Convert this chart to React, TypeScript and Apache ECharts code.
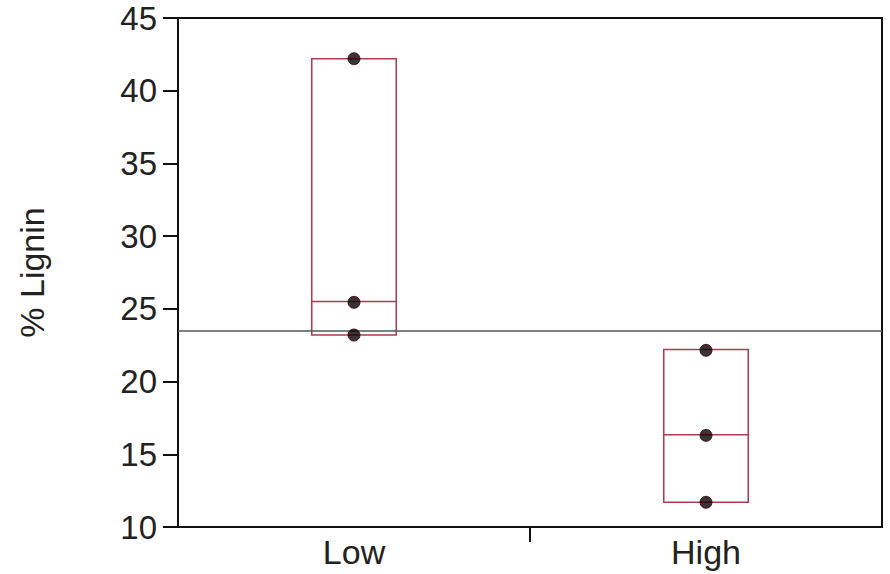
import React, { useEffect, useRef } from "react";
import * as echarts from "echarts";

const categories = ["Low", "High"];
// observed points per group
const lowValues = [42.2, 25.45, 23.2];
const highValues = [22.15, 16.3, 11.7];
// box: [min, Q1, median, Q3, max]
const lowBox = [23.2, 23.2, 25.5, 42.2, 42.2];
const highBox = [11.7, 11.7, 16.35, 22.2, 22.2];
const yTicks = { min: 10, max: 45, interval: 5 };
const yName = "% Lignin";

const FONT = "'Liberation Sans', Arial, sans-serif";

export default function App() {
  const ref = useRef<HTMLDivElement>(null);
  useEffect(() => {
    document.body.style.margin = "0";
    if (!ref.current) return;
    const chart = echarts.init(ref.current, null, { renderer: "svg" });
    const all = [...lowValues, ...highValues];
    const grandMean = all.reduce((a, b) => a + b, 0) / all.length;
    const points: [string, number][] = [
      ...lowValues.map((v) => [categories[0], v] as [string, number]),
      ...highValues.map((v) => [categories[1], v] as [string, number]),
    ];
    chart.setOption({
      animation: false,
      backgroundColor: "#ffffff",
      textStyle: { fontFamily: FONT },
      grid: {
        left: 178,
        right: 8,
        top: 18,
        bottom: 47,
        show: true,
        borderColor: "#111",
        borderWidth: 2,
        backgroundColor: "transparent",
      },
      xAxis: [
        {
          type: "category",
          data: categories,
          position: "bottom",
          axisLine: { show: true, lineStyle: { color: "#111", width: 2 } },
          axisTick: { show: false },
          axisLabel: {
            fontSize: 34,
            color: "#222",
            margin: 8,
            fontFamily: FONT,
          },
          splitLine: { show: false },
        },
        {
          type: "value",
          min: 0,
          max: 2,
          interval: 2,
          position: "bottom",
          axisLine: { show: false },
          axisLabel: { show: false },
          axisTick: { show: false },
          splitLine: { show: false },
          minorTick: {
            show: true,
            splitNumber: 2,
            length: 15,
            lineStyle: { color: "#111", width: 2 },
          },
          minorSplitLine: { show: false },
        },
      ],
      yAxis: {
        type: "value",
        min: yTicks.min,
        max: yTicks.max,
        interval: yTicks.interval,
        name: yName,
        nameLocation: "middle",
        nameGap: 129,
        nameRotate: 90,
        nameTextStyle: { fontSize: 34, color: "#222", fontFamily: FONT },
        axisLine: { show: true, lineStyle: { color: "#111", width: 2 } },
        axisTick: {
          show: true,
          inside: false,
          length: 15,
          lineStyle: { color: "#111", width: 2 },
        },
        axisLabel: { fontSize: 33, color: "#222", margin: 21, fontFamily: FONT },
        splitLine: { show: false },
      },
      series: [
        {
          type: "boxplot",
          xAxisIndex: 0,
          data: [lowBox, highBox],
          boxWidth: ["24%", "24%"],
          itemStyle: {
            color: "transparent",
            borderColor: "#b03a50",
            borderWidth: 1.5,
          },
          emphasis: { disabled: true },
          silent: true,
        },
        {
          type: "scatter",
          xAxisIndex: 0,
          data: points,
          symbol: "circle",
          symbolSize: 12,
          itemStyle: {
            color: "#0c0003",
            borderColor: "#2a0008",
            borderWidth: 1,
          },
          z: 5,
          silent: true,
          markLine: {
            silent: true,
            symbol: ["none", "none"],
            label: { show: false },
            lineStyle: { color: "#555", width: 1.5, type: "solid" },
            data: [{ yAxis: grandMean }],
          },
        },
      ],
    });
    return () => chart.dispose();
  }, []);
  return <div ref={ref} style={{ width: 890, height: 574 }} />;
}
